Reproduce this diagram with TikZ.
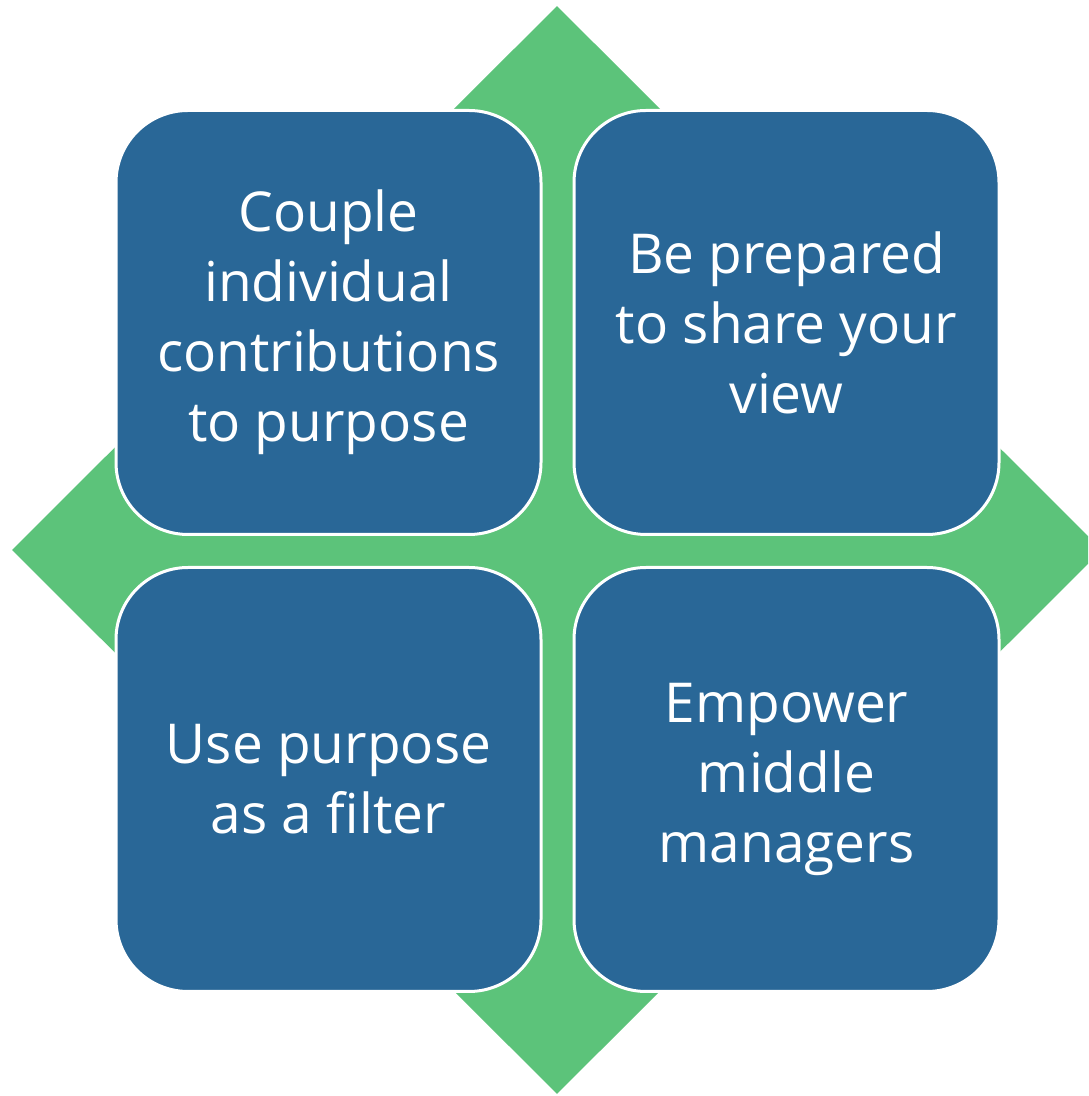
\documentclass[tikz,border=0pt]{standalone}
\usepackage{fontspec}
\setmainfont{Open Sans}
\usetikzlibrary{positioning, shapes.geometric}
\definecolor{tileblue}{RGB}{41,103,151}
\definecolor{crossgreen}{RGB}{92,195,122}

\begin{document}
\begin{tikzpicture}[
        x=1pt, y=1pt,
        node distance=30pt,
        tile/.style={rectangle, draw=white, fill=tileblue, line width=3pt, minimum width=425pt, minimum height=424pt, rounded corners=72pt, align=center, text=white, inner sep=0pt, font=\fontsize{55}{70}\selectfont},
    ]
    \useasboundingbox (0,0) rectangle (1088,1096);
    \clip (0,0) rectangle (1088,1096);
    \node[diamond, fill=crossgreen, minimum width=1090pt, minimum height=1088pt, inner sep=0pt] (CROSS) at (557,546) {};
    \node[tile] (PURPOSE) at (328.5,773.5) {Couple\\individual\\contributions\\to purpose};
    \node[tile, right=of PURPOSE] (VIEW) {Be prepared\\to share your\\view};
    \node[tile, below=of PURPOSE] (FILTER) {Use purpose\\as a filter};
    \node[tile, right=of FILTER] (MANAGERS) {Empower\\middle\\managers};
\end{tikzpicture}
\end{document}
